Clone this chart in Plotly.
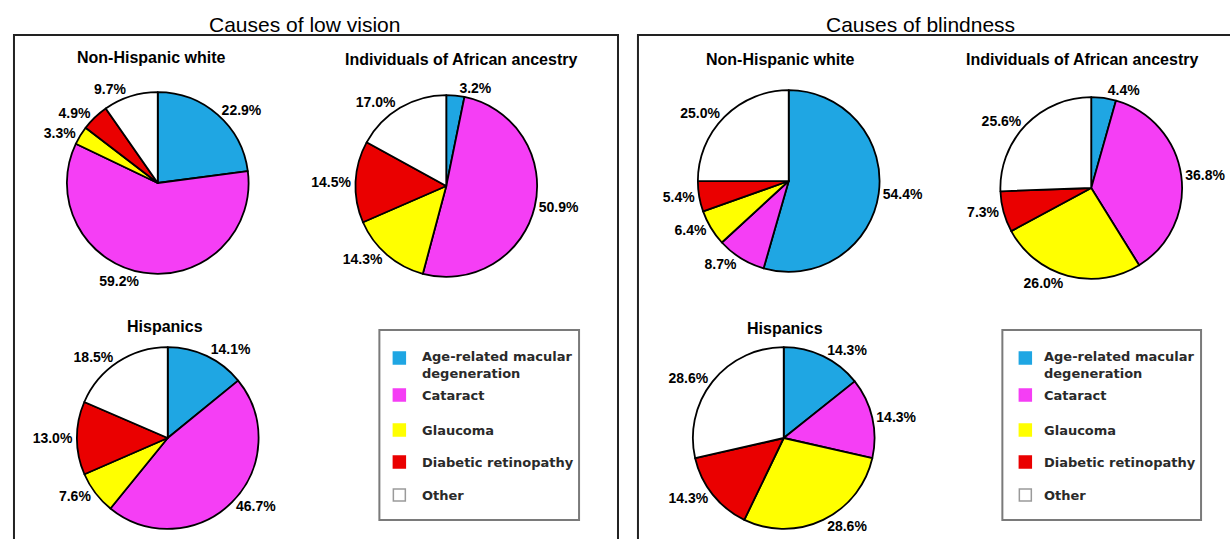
import plotly.graph_objects as go

W, H = 1230, 539

# Categories and colours shared by every pie
causes = ["Age-related macular degeneration", "Cataract", "Glaucoma",
          "Diabetic retinopathy", "Other"]
legend_lines = ["Age-related macular<br>degeneration", "Cataract", "Glaucoma",
                "Diabetic retinopathy", "Other"]
colors = ["#1fa6e3", "#f53ef5", "#ffff00", "#ea0000", "#ffffff"]

panel_titles = ["Causes of low vision", "Causes of blindness"]
groups = ["Non-Hispanic white", "Individuals of African ancestry", "Hispanics"]

# Share (%) of each cause, in the order of `causes`
low_vision_nhw = [22.9, 59.2, 3.3, 4.9, 9.7]
low_vision_afr = [3.2, 50.9, 14.3, 14.5, 17.0]
low_vision_his = [14.1, 46.7, 7.6, 13.0, 18.5]
blind_nhw = [54.4, 8.7, 6.4, 5.4, 25.0]
blind_afr = [4.4, 36.8, 26.0, 7.3, 25.6]
blind_his = [14.3, 14.3, 28.6, 14.3, 28.6]


def px(x):
    return x / W


def py(y):
    return 1 - y / H


fig = go.Figure()

# pie placement (centre x, centre y, radius) and title anchor, in pixels
pies = [
    (low_vision_nhw, 158, 183, 91, groups[0], 152, 58),
    (low_vision_afr, 447, 186, 91, groups[1], 462, 60),
    (low_vision_his, 168, 438, 91, groups[2], 165, 326),
    (blind_nhw, 790, 181, 91, groups[0], 782, 60),
    (blind_afr, 1093, 188, 91, groups[1], 1084, 60),
    (blind_his, 785, 438, 91, groups[2], 786, 328),
]

annotations = []
shapes = []

for vals, cx, cy, r, title, tx, ty in pies:
    fig.add_trace(go.Pie(
        values=vals,
        labels=causes,
        sort=False,
        direction="clockwise",
        rotation=0,
        marker=dict(colors=colors, line=dict(color="black", width=1.8)),
        texttemplate="%{value:.1f}%",
        textposition="outside",
        textfont=dict(family="Arial", size=14, color="black", weight="bold"),
        domain=dict(x=[px(cx - r), px(cx + r)], y=[py(cy + r), py(cy - r)]),
        showlegend=False,
        hoverinfo="label+value",
    ))
    annotations.append(dict(
        text=title, x=px(tx), y=py(ty), xref="paper", yref="paper",
        showarrow=False, xanchor="center", yanchor="middle",
        font=dict(family="Arial", size=16, color="black", weight="bold"),
    ))

# panel frames and headings
for (x0, x1), title, tcx in zip([(14, 619), (639, 1245)], panel_titles, [305, 922]):
    shapes.append(dict(type="rect", xref="paper", yref="paper",
                       x0=px(x0), x1=px(x1), y0=py(548), y1=py(35),
                       line=dict(color="#222", width=2), fillcolor="rgba(0,0,0,0)"))
    annotations.append(dict(
        text=title, x=px(tcx), y=py(24), xref="paper", yref="paper",
        showarrow=False, xanchor="center", yanchor="middle",
        font=dict(family="Arial", size=21, color="black"),
    ))

# legend boxes
item_y = [358, 395, 430, 462, 495]
for bx0, bx1, sq_x, text_x in [(380, 580, 400, 421), (1004, 1203, 1027, 1044)]:
    shapes.append(dict(type="rect", xref="paper", yref="paper",
                       x0=px(bx0), x1=px(bx1), y0=py(520), y1=py(330),
                       line=dict(color="#7a7a7a", width=2), fillcolor="white"))
    for i, (name, col) in enumerate(zip(legend_lines, colors)):
        y = item_y[i]
        shapes.append(dict(type="rect", xref="paper", yref="paper",
                           x0=px(sq_x - 6), x1=px(sq_x + 6),
                           y0=py(y + 6), y1=py(y - 6),
                           line=dict(color="#9a9a9a" if col == "#ffffff" else col, width=1.5),
                           fillcolor=col))
        ty = y + 7 if "<br>" in name else y
        annotations.append(dict(
            text=name, x=px(text_x), y=py(ty), xref="paper", yref="paper",
            showarrow=False, xanchor="left", yanchor="middle", align="left",
            font=dict(family="DejaVu Sans", size=13, color="#2a2a2a", weight="bold"),
        ))

fig.update_layout(
    width=W, height=H,
    margin=dict(l=0, r=0, t=0, b=0),
    paper_bgcolor="white",
    plot_bgcolor="white",
    shapes=shapes,
    annotations=annotations,
)

fig.write_html("out.html")
